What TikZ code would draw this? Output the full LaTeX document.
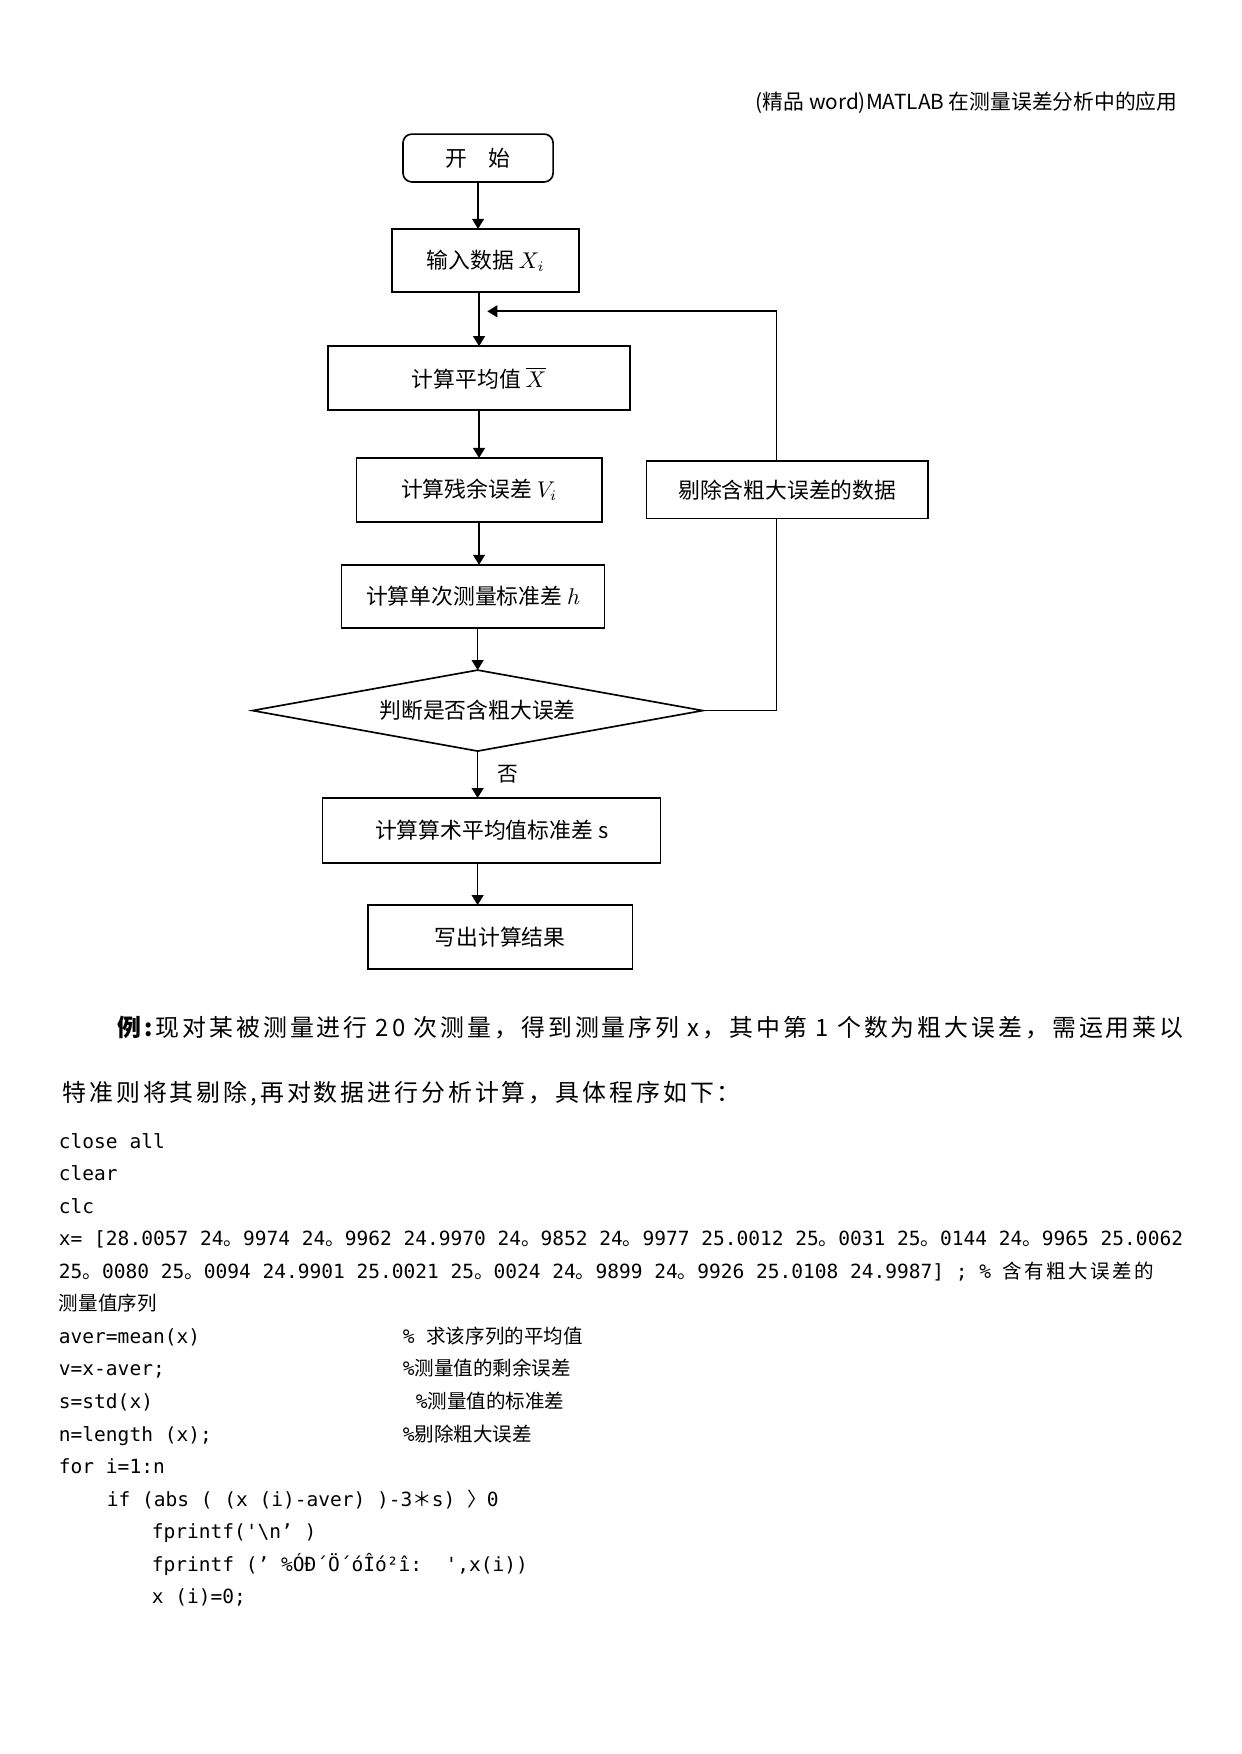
\documentclass[tikz,border=0pt]{standalone}
\usepackage{fontspec}
\usepackage{tikz}
\usetikzlibrary{shapes.geometric,arrows.meta,positioning,calc}
\setmainfont{Noto Sans CJK SC}
\setmonofont{DejaVu Sans Mono}
\newfontfamily\cjk{Noto Sans CJK SC}
\newfontfamily\cjkwide[LetterSpace=12.5]{Noto Sans CJK SC}
\newcommand\cnstop{{\cjk 。}}

\begin{document}
\begin{tikzpicture}[
    box/.style={rectangle, draw, line width=0.8pt, inner sep=2pt, outer sep=0pt,
                font=\fontsize{10.5}{12}\selectfont},
    startbox/.style={box, rounded corners=1.5mm},
    test/.style={diamond, draw, line width=0.8pt, aspect=5.5, inner sep=0pt, outer sep=0pt,
                 font=\fontsize{10.5}{12}\selectfont},
    arr/.style={-{Triangle[length=1.7mm,width=2mm]}, line width=0.8pt},
    loopline/.style={line width=0.8pt},
    para/.style={inner sep=0pt, anchor=west,
                 font=\cjkwide\fontsize{11.5}{14}\selectfont},
    codeline/.style={inner sep=0pt, outer sep=0pt, text height=0.38cm, text depth=0.171cm,
                     font=\ttfamily\fontsize{9.4}{11}\selectfont},
]

\useasboundingbox (0,0) rectangle (21,-29.68);

% page header
\node[anchor=east, inner sep=0pt, font=\fontsize{10}{12}\selectfont] (title) at (19.93,-1.743)
    {(精品 word)MATLAB 在测量误差分析中的应用};

% flow chart
\node[startbox, minimum width=2.54cm, minimum height=0.81cm] (start) at (8.089,-2.674) {开\quad 始};
\node[box, minimum width=3.16cm, minimum height=1.07cm, below=0.795cm of start, xshift=0.127cm] (input) {输入数据 $X_i$};
\node[box, minimum width=5.11cm, minimum height=1.08cm, below=0.914cm of input, xshift=-0.11cm] (mean) {计算平均值 $\overline{X}$};
\node[box, minimum width=4.15cm, minimum height=1.08cm, below=0.812cm of mean] (resid) {计算残余误差 $V_i$};
\node[box, minimum width=4.76cm, minimum height=0.97cm, right=0.761cm of resid] (remove) {剔除含粗大误差的数据};
\node[box, minimum width=4.45cm, minimum height=1.07cm, below=0.728cm of resid, xshift=-0.1cm] (single) {计算单次测量标准差 $h$};
\node[test, minimum width=7.62cm, minimum height=1.37cm, below=0.711cm of single, xshift=0.076cm] (judge) {判断是否含粗大误差};
\node[box, minimum width=5.72cm, minimum height=1.10cm, below=0.795cm of judge, xshift=0.237cm] (mstd) {计算算术平均值标准差 s};
\node[box, minimum width=4.48cm, minimum height=1.08cm, below=0.711cm of mstd, xshift=0.144cm] (result) {写出计算结果};

\coordinate (merge) at ($(mean.north)+(0,0.59)$);

\draw[arr] (start.south) -- (start.south |- input.north);
\draw[arr] (mean.north |- input.south) -- (mean.north);
\draw[arr] (mean.south) -- (mean.south |- resid.north);
\draw[arr] (resid.south) -- (resid.south |- single.north);
\draw[arr] (judge.north |- single.south) -- (judge.north);
\draw[arr] (judge.south) -- (judge.south |- mstd.north) node[midway, right=0.2cm] (no) {否};
\draw[arr] (judge.south |- mstd.south) -- (judge.south |- result.north);
\draw[loopline] (judge.east) -| ([xshift=-1.8mm]remove.south);
\draw[arr] ([xshift=-1.8mm]remove.north) |- ([xshift=1.4mm]merge);

% example text
\node[para] (ex1) at (1.98,-17.396)
    {\textbf{例:}现对某被测量进行 20 次测量，得到测量序列 x，其中第 1 个数为粗大误差，需运用莱以};
\node[para] (ex2) at (1.049,-18.513)
    {特准则将其剔除,再对数据进行分析计算，具体程序如下：};

% program listing
\node[codeline, anchor=north west] (l1) at (0.998,-19.046) {close all};
\node[codeline, below=0pt of l1.south west, anchor=north west] (l2) {clear};
\node[codeline, below=0pt of l2.south west, anchor=north west] (l3) {clc};
\node[codeline, below=0pt of l3.south west, anchor=north west] (l4)
    {x= [28.0057 24\cnstop 9974 24\cnstop 9962 24.9970 24\cnstop 9852 24\cnstop 9977 25.0012 25\cnstop 0031 25\cnstop 0144 24\cnstop 9965 25.0062};
\node[codeline, below=0pt of l4.south west, anchor=north west] (l5)
    {25\cnstop 0080 25\cnstop 0094 24.9901 25.0021 25\cnstop 0024 24\cnstop 9899 24\cnstop 9926 25.0108 24.9987] ; \% {\cjkwide 含有粗大误差的}};
\node[codeline, below=0pt of l5.south west, anchor=north west] (l6) {{\cjk 测量值序列}};
\node[codeline, below=0pt of l6.south west, anchor=north west] (l7)
    {\makebox[5.82cm][l]{aver=mean(x)}\% {\cjk 求该序列的平均值}};
\node[codeline, below=0pt of l7.south west, anchor=north west] (l8)
    {\makebox[5.82cm][l]{v=x-aver;}\%{\cjk 测量值的剩余误差}};
\node[codeline, below=0pt of l8.south west, anchor=north west] (l9)
    {\makebox[6.04cm][l]{s=std(x)}\%{\cjk 测量值的标准差}};
\node[codeline, below=0pt of l9.south west, anchor=north west] (l10)
    {\makebox[5.82cm][l]{n=length (x);}\%{\cjk 剔除粗大误差}};
\node[codeline, below=0pt of l10.south west, anchor=north west] (l11) {for i=1:n};
\node[codeline, below=0pt of l11.south west, anchor=north west, xshift=0.81cm] (l12)
    {if (abs ( (x (i)-aver) )-3{\cjk ＊}s) {\cjk 〉}0};
\node[codeline, below=0pt of l12.south west, anchor=north west, xshift=0.76cm] (l13)
    {fprintf('\textbackslash n’ )};
\node[codeline, below=0pt of l13.south west, anchor=north west] (l14)
    {fprintf (’ \%ÓÐ´Ö´óÎó²î:\ \ ',x(i))};
\node[codeline, below=0pt of l14.south west, anchor=north west] (l15) {x (i)=0;};

\end{tikzpicture}
\end{document}
